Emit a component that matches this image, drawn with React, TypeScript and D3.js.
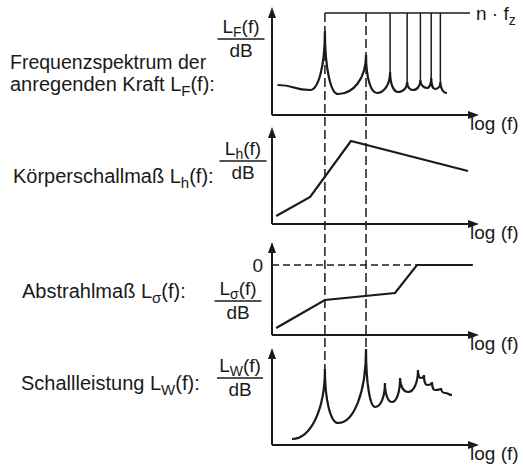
import React from "react";
import * as d3 from "d3";

// Frequency axis: f / f_z on a logarithmic scale, shared by all four panels
const freqDomain: [number, number] = [0.41, 13.2];

// Harmonic orders n of the tooth-mesh frequency f_z
const harmonics = [1, 2, 3, 4, 5, 6, 7];
const harmonicLineLevel = 51; // level of the n·f_z marker line in the force panel

// Excitation force spectrum L_F(f): [f/fz, level dB]
const forceSpectrum: [number, number][] = [
  [0.45, 15], [0.78, 12.5], [1, 42], [1.25, 10.5], [2, 30], [2.4, 11],
  [3, 21.5], [3.43, 11.5], [4, 16.5], [4.41, 12.5], [5, 17.5], [5.59, 13.5],
  [6, 18.5], [6.4, 13], [7, 16.5], [7.83, 11],
];

// Structure-borne sound transfer L_h(f)
const structureBorne: [number, number][] = [
  [0.44, 4], [0.78, 13.5], [1.55, 41.5], [11.15, 26.5],
];

// Radiation efficiency L_sigma(f), reaching 0 dB at high frequency
const radiation: [number, number][] = [
  [0.44, -31.5], [1, -17.5], [3.26, -14], [4.72, 0], [12.1, 0],
];

// Radiated sound power L_W(f)
const soundPower: [number, number][] = [
  [0.574, 3], [1, 38], [1.25, 11], [2, 48], [2.33, 19], [2.75, 31],
  [3.1, 21.5], [3.55, 33.5], [4.06, 26.5], [4.8, 37.5], [5.05, 33.5],
  [5.31, 35], [5.59, 30], [6.08, 31.5], [6.4, 27.5], [7.08, 28.5],
  [7.57, 26], [8.52, 25],
];

const FONT = "'Liberation Sans', Arial, sans-serif";
const INK = "#1a1a1a";

const x = d3.scaleLog().domain(freqDomain).range([272, 478]);
const yF = d3.scaleLinear().domain([0, 50]).range([115, 15]);
const yH = d3.scaleLinear().domain([0, 50]).range([224, 124]);
const yS = d3.scaleLinear().domain([-35, 0]).range([335, 265]);
const yW = d3.scaleLinear().domain([0, 50]).range([445, 345]);

// Resonance-style curve: cusps at local maxima, flat tangents at minima
function resonancePath(
  pts: [number, number][],
  ys: d3.ScaleLinear<number, number>
): string {
  const p = pts.map(([f, l]) => [x(f), ys(l)]);
  const isMax = (i: number) =>
    i > 0 && i < pts.length - 1 && pts[i][1] > pts[i - 1][1] && pts[i][1] > pts[i + 1][1];
  const path = d3.path();
  path.moveTo(p[0][0], p[0][1]);
  for (let i = 0; i < p.length - 1; i++) {
    const [ax, ay] = p[i];
    const [bx, by] = p[i + 1];
    const dx = bx - ax;
    const dy = by - ay;
    const c1 = isMax(i) ? [ax, ay + 0.6 * dy] : [ax + 0.55 * dx, ay];
    const c2 = isMax(i + 1) ? [bx, by - 0.6 * dy] : [bx - 0.55 * dx, by];
    path.bezierCurveTo(c1[0], c1[1], c2[0], c2[1], bx, by);
  }
  return path.toString();
}

const polyline = (pts: [number, number][], ys: d3.ScaleLinear<number, number>) =>
  d3.line<[number, number]>().x((d) => x(d[0])).y((d) => ys(d[1]))(pts) || "";

function Axes({ ys, top }: { ys: d3.ScaleLinear<number, number>; top: number }) {
  const x0 = x.range()[0];
  const x1 = x.range()[1];
  const base = ys.range()[0];
  return (
    <g stroke={INK} fill={INK}>
      <line x1={x0} y1={base} x2={x0} y2={top + 8} strokeWidth={2} />
      <line x1={x0} y1={base} x2={x1 - 8} y2={base} strokeWidth={2} />
      <path d={`M${x0},${top} L${x0 - 4},${top + 11} L${x0 + 4},${top + 11} Z`} stroke="none" />
      <path d={`M${x1 + 1},${base} L${x1 - 10},${base - 4} L${x1 - 10},${base + 4} Z`} stroke="none" />
      <text x={470} y={base + 15} fontSize={19} stroke="none" fontFamily={FONT}>
        log (f)
      </text>
    </g>
  );
}

function Fraction({ cx, y, sub, lineW }: { cx: number; y: number; sub: string; lineW: number }) {
  return (
    <g fill={INK} fontFamily={FONT}>
      <text x={cx} y={y} fontSize={19} textAnchor="middle">
        L<tspan dy={4} fontSize={14}>{sub}</tspan>
        <tspan dy={-4}>(f)</tspan>
      </text>
      <line x1={cx - lineW / 2} x2={cx + lineW / 2} y1={y + 6} y2={y + 6} stroke={INK} strokeWidth={1.6} />
      <text x={cx} y={y + 24} fontSize={19} textAnchor="middle">
        dB
      </text>
    </g>
  );
}

function Label({ x0, y, pre, sub }: { x0: number; y: number; pre: string; sub: string }) {
  return (
    <text x={x0} y={y} fontSize={20} fill={INK} fontFamily={FONT}>
      {pre}L<tspan dy={5} fontSize={15}>{sub}</tspan>
      <tspan dy={-5}>(f):</tspan>
    </text>
  );
}

export default function App() {
  const topY = yF(harmonicLineLevel);
  const peakOf = (data: [number, number][], n: number) =>
    data.find((d) => Math.abs(d[0] - n) < 1e-6)![1];

  return (
    <svg
      width={523}
      height={470}
      style={{ position: "absolute", left: 0, top: 0, background: "#fff" }}
    >
      {/* n·f_z marker line */}
      <line x1={x(1)} x2={470} y1={topY} y2={topY} stroke={INK} strokeWidth={1.6} />
      <text x={476} y={20} fontSize={19} fill={INK} fontFamily={FONT}>
        n · f<tspan dy={5} fontSize={14}>z</tspan>
      </text>
      {harmonics.map((n) =>
        n <= 2 ? (
          <line
            key={n}
            x1={x(n)}
            x2={x(n)}
            y1={topY}
            y2={yW(peakOf(soundPower, n))}
            stroke={INK}
            strokeWidth={1.5}
            strokeDasharray="9,4"
          />
        ) : (
          <line
            key={n}
            x1={x(n)}
            x2={x(n)}
            y1={topY}
            y2={yF(peakOf(forceSpectrum, n))}
            stroke={INK}
            strokeWidth={1.5}
          />
        )
      )}

      {/* Panel 1: excitation force */}
      <Axes ys={yF} top={7} />
      <path d={resonancePath(forceSpectrum, yF)} fill="none" stroke={INK} strokeWidth={2.2} />
      <Fraction cx={241} y={33} sub="F" lineW={47} />
      <text x={10} y={69} fontSize={19.5} fill={INK} fontFamily={FONT}>
        Frequenzspektrum der
      </text>
      <Label x0={10} y={91} pre="anregenden Kraft " sub="F" />

      {/* Panel 2: structure-borne sound */}
      <Axes ys={yH} top={127} />
      <path d={polyline(structureBorne, yH)} fill="none" stroke={INK} strokeWidth={2.2} />
      <Fraction cx={243} y={155} sub="h" lineW={47} />
      <Label x0={13} y={183} pre="Körperschallmaß " sub="h" />

      {/* Panel 3: radiation efficiency */}
      <Axes ys={yS} top={242} />
      <line
        x1={x.range()[0]}
        x2={x(radiation[3][0])}
        y1={yS(0)}
        y2={yS(0)}
        stroke={INK}
        strokeWidth={1.5}
        strokeDasharray="7,4"
      />
      <text x={263} y={272} fontSize={19} fill={INK} fontFamily={FONT} textAnchor="end">
        0
      </text>
      <path d={polyline(radiation, yS)} fill="none" stroke={INK} strokeWidth={2.2} />
      <Fraction cx={238} y={295} sub="σ" lineW={47} />
      <Label x0={22} y={298} pre="Abstrahlmaß " sub="σ" />

      {/* Panel 4: radiated sound power */}
      <Axes ys={yW} top={348} />
      <path d={resonancePath(soundPower, yW)} fill="none" stroke={INK} strokeWidth={2.2} />
      <Fraction cx={240} y={372} sub="W" lineW={46} />
      <Label x0={21} y={390} pre="Schallleistung " sub="W" />
    </svg>
  );
}
